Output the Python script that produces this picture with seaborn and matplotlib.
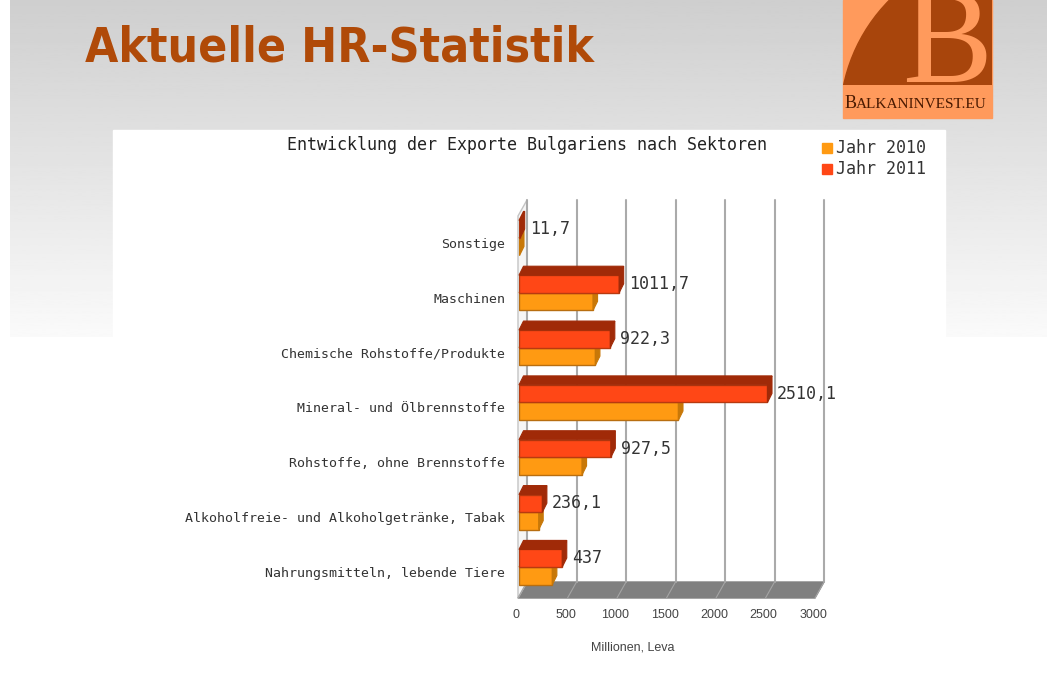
import numpy as np
import pandas as pd
import matplotlib
matplotlib.use("Agg")
import matplotlib.pyplot as plt
from matplotlib.patches import Polygon, Rectangle, Circle
from matplotlib.lines import Line2D
from matplotlib.transforms import IdentityTransform, ScaledTranslation
import seaborn as sns

# values (Mio. Leva)
sectors = ["Sonstige", "Maschinen", "Chemische Rohstoffe/Produkte",
           "Mineral- und Ölbrennstoffe", "Rohstoffe, ohne Brennstoffe",
           "Alkoholfreie- und Alkoholgetränke, Tabak",
           "Nahrungsmitteln, lebende Tiere"]
exports_2010 = [5, 748, 772, 1611, 637, 199, 337]
exports_2011 = [11.7, 1011.7, 922.3, 2510.1, 927.5, 236.1, 437]
years = ["Jahr 2011", "Jahr 2010"]          # 2011 sits on top inside a group
legend_years = ["Jahr 2010", "Jahr 2011"]
x_ticks = [0, 500, 1000, 1500, 2000, 2500, 3000]

front = {"Jahr 2010": "#ff9a12", "Jahr 2011": "#ff4716"}
shade = {"Jahr 2010": "#c87808", "Jahr 2011": "#a02a08"}
edge = {"Jahr 2010": "#b86e10", "Jahr 2011": "#b83a10"}

df = pd.DataFrame({
    "sector": sectors * 2,
    "year": ["Jahr 2011"] * len(sectors) + ["Jahr 2010"] * len(sectors),
    "value": exports_2011 + exports_2010,
})

W, H = 1058, 675
sns.set_style("white")
fig = plt.figure(figsize=(W / 100, H / 100), dpi=100)
fig.patch.set_facecolor("white")

# slide background, logo (pixel coords, y down)
bg = fig.add_axes([0, 0, 1, 1], zorder=-10)
bg.set_xlim(0, W)
bg.set_ylim(H, 0)
bg.axis("off")
grad = np.linspace(0.81, 0.98, 200).reshape(-1, 1)
bg.imshow(grad, extent=(10, 1047, 337, 0), cmap="gray", vmin=0, vmax=1, aspect="auto")
bg.add_patch(Rectangle((113, 130), 832, 545, color="white"))

logo = Rectangle((843, 0), 149, 118, color="#ff9a5c")
bg.add_patch(logo)
dark_clip = Rectangle((843, 0), 149, 85, transform=bg.transData)
disc = Circle((1010, 120), 170, color="#a8450c")
bg.add_patch(disc)
disc.set_clip_path(dark_clip)
b = bg.text(947, 82, "B", fontsize=97, family="Liberation Serif", color="#ff9a5c",
            ha="center", va="baseline")
b.set_clip_path(Rectangle((843, 0), 149, 118, transform=bg.transData))
bg.text(845, 104, "B", fontsize=13, family="Liberation Serif",
        color="#4a1a00", ha="left", va="center")
bg.text(856, 104.5, "ALKANINVEST.EU", fontsize=11, family="Liberation Serif",
        color="#4a1a00", ha="left", va="center")

fig.text(85 / W, 1 - 48 / H, "Aktuelle HR-Statistik", fontsize=34.5, weight="bold",
         fontstretch="condensed", color="#b04a08", ha="left", va="center")
fig.text(527 / W, 1 - 145 / H, "Entwicklung der Exporte Bulgariens nach Sektoren",
         fontsize=12, family="DejaVu Sans Mono", color="#222222", ha="center", va="center")
for i, yr in enumerate(legend_years):
    yc = 148 + 21 * i
    fig.add_artist(Rectangle((822 / W, 1 - (yc + 5) / H), 10 / W, 10 / H,
                             transform=fig.transFigure, color=front[yr]))
    fig.text(836 / W, 1 - yc / H, yr, fontsize=12, family="DejaVu Sans Mono",
             color="#333333", ha="left", va="center")
fig.text(633 / W, 1 - 648 / H, "Millionen, Leva", fontsize=9, family="Liberation Sans",
         color="#444444", ha="center", va="center")

# chart
ax = fig.add_axes([519 / W, (H - 598) / H, 297 / W, 382 / H])
sns.barplot(data=df, x="value", y="sector", hue="year", hue_order=years, order=sectors,
            palette=front, width=0.64, saturation=1, orient="h", legend=False, ax=ax)
ax.set_xlim(0, 3000)
ax.set_ylim(6.566, -0.4)
ax.set_facecolor("none")
ax.grid(False)
for s in ax.spines.values():
    s.set_visible(False)
ax.set_xlabel("")
ax.set_ylabel("")
ax.set_xticks(x_ticks)
ax.set_xticklabels([str(t) for t in x_ticks])
ax.tick_params(axis="x", length=0, pad=8, labelsize=9, labelcolor="#444444")
ax.tick_params(axis="y", length=0, pad=10, labelsize=9.5, labelcolor="#333333")
for lbl in ax.get_xticklabels():
    lbl.set_family("Liberation Sans")
    lbl.set_transform(lbl.get_transform() + ScaledTranslation(-0.03, 0, fig.dpi_scale_trans))
for lbl in ax.get_yticklabels():
    lbl.set_family("DejaVu Sans Mono")
    lbl.set_transform(lbl.get_transform() + ScaledTranslation(0, -0.05, fig.dpi_scale_trans))

ident = IdentityTransform()
fy, by, top_y = H - 598, H - 582, H - 200

def to_px(x, y):
    return ax.transData.transform((x, y))

# floor + back grid
x0_px = to_px(0, 0)[0]
x3_px = to_px(3000, 0)[0]
ax.add_patch(Polygon([(x0_px - 1, fy), (x3_px - 1, fy), (x3_px + 8, by), (x0_px + 8, by)],
                     closed=True, facecolor="#808080", edgecolor="#808080",
                     transform=ident, clip_on=False, zorder=1))
ax.add_patch(Polygon([(x0_px - 1, fy), (x0_px - 1, H - 216), (x0_px + 8, top_y), (x0_px + 8, by)],
                     closed=True, facecolor="#f6f6f6", edgecolor="#c4c4c4", lw=1,
                     transform=ident, clip_on=False, zorder=1))
for t in x_ticks:
    xp = to_px(t, 0)[0]
    ax.add_line(Line2D([xp + 8, xp + 8], [by, top_y], color="#aaaaaa", lw=1.5,
                       transform=ident, clip_on=False, zorder=1.5))
    ax.add_line(Line2D([xp - 1, xp + 8], [fy, by], color="#a4a4a4", lw=0.8,
                       transform=ident, clip_on=False, zorder=1.5))

# pseudo-3D faces on each bar
dx, dy = 4.5, 9
for container, yr in zip(ax.containers, years):
    z = 4 if yr == "Jahr 2011" else 3
    for bar in container:
        bar.set_edgecolor(edge[yr])
        bar.set_linewidth(1)
        bar.set_zorder(z)
        (ax0, ay0) = to_px(bar.get_x(), bar.get_y())
        (ax1, ay1) = to_px(bar.get_x() + bar.get_width(), bar.get_y() + bar.get_height())
        ylo, yhi = sorted([ay0, ay1])
        ax.add_patch(Polygon([(ax0, yhi), (ax1, yhi), (ax1 + dx, yhi + dy), (ax0 + dx, yhi + dy)],
                             closed=True, facecolor=shade[yr], edgecolor=shade[yr], lw=0.8,
                             transform=ident, clip_on=False, zorder=z))
        ax.add_patch(Polygon([(ax1, ylo), (ax1 + dx, ylo + dy), (ax1 + dx, yhi + dy), (ax1, yhi)],
                             closed=True, facecolor=shade[yr], edgecolor=shade[yr], lw=0.8,
                             transform=ident, clip_on=False, zorder=z))

ax.bar_label(ax.containers[0], labels=[f"{v:g}".replace(".", ",") for v in exports_2011],
             padding=7, fontsize=12, family="DejaVu Sans Mono", color="#333333")
for txt in ax.texts:
    txt.set_transform(txt.get_transform() + ScaledTranslation(0, -0.02, fig.dpi_scale_trans))

fig.savefig("out.png", dpi=100)
